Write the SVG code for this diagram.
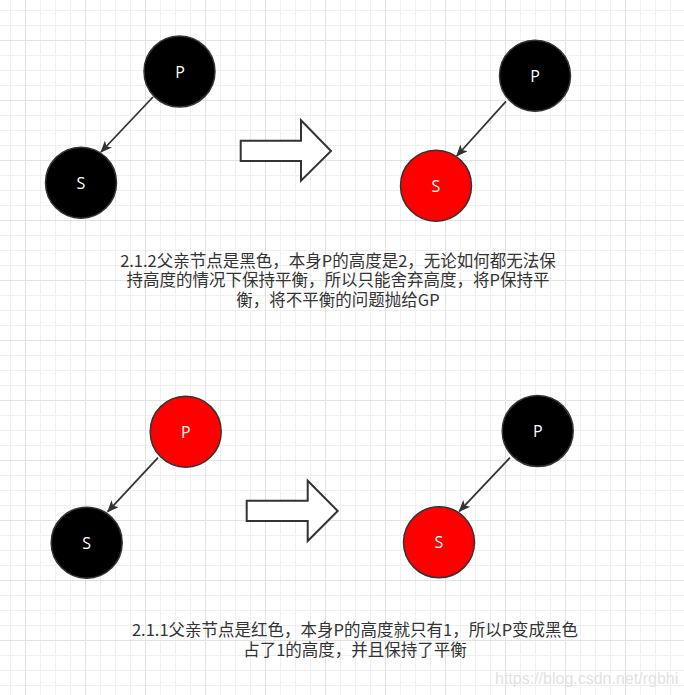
<svg xmlns="http://www.w3.org/2000/svg" width="684" height="695" viewBox="0 0 684 695">
<defs>
<pattern id="gmin" patternUnits="userSpaceOnUse" x="10" y="10" width="15" height="15"><path d="M15 0.5H0.5V15" fill="none" stroke="#efefef" stroke-width="1"/></pattern>
<pattern id="gmaj" patternUnits="userSpaceOnUse" x="25" y="40" width="60" height="60"><path d="M60 0.5H0.5V60" fill="none" stroke="#e2e2e2" stroke-width="1"/></pattern>
<marker id="ah" markerUnits="userSpaceOnUse" viewBox="0 0 12 10" refX="11" refY="5" markerWidth="12" markerHeight="10" orient="auto"><path d="M0 0L12 5L0 10L3 5Z" fill="#333"/></marker>
</defs>
<style>
.nd{stroke:#333;stroke-width:1.5}
.blk{fill:#000}
.red{fill:#ff0000}
.lbl{font-family:"Open Sans","Noto Sans",sans-serif;font-size:16px;fill:#fff;text-anchor:middle}
.ed{stroke:#333;stroke-width:1.8;fill:none;marker-end:url(#ah)}
.ba{fill:#fff;stroke:#333;stroke-width:2;stroke-linejoin:miter}
.tx{font-family:"Noto Sans CJK SC","Noto Sans",sans-serif;font-size:16.5px;fill:#333;text-anchor:middle}
.wm{font-family:"Liberation Sans",Arial,sans-serif;font-size:16px;fill:#e2e2e2}
</style>
<rect width="684" height="695" fill="#fff"/>
<rect width="684" height="695" fill="url(#gmin)"/>
<rect width="684" height="695" fill="url(#gmaj)"/>
<g id="connectors">
<path class="ed" d="M153 97L101 152"/>
<path class="ed" d="M506 101.3L456.7 156"/>
<path class="ed" d="M158 457.7L107.7 511.7"/>
<path class="ed" d="M510 457.7L459.3 511.3"/>
</g>
<g id="p1"><circle class="nd blk" cx="179.5" cy="71.5" r="35.5"/><text class="lbl" x="180" y="77.5">P</text></g>
<g id="s1"><circle class="nd blk" cx="81" cy="182.7" r="35.5"/><text class="lbl" x="81" y="188.5">S</text></g>
<g id="p2"><circle class="nd blk" cx="535" cy="75.7" r="35.5"/><text class="lbl" x="535" y="81.5">P</text></g>
<g id="s2"><circle class="nd red" cx="436" cy="185.7" r="35.5"/><text class="lbl" x="436" y="191.5">S</text></g>
<g id="arrow1"><path class="ba" d="M240.7 140.7H301V120.3L331 151L301 180.7V161H240.7Z"/></g>
<g id="text1">
<text class="tx" x="338" y="266.5">2.1.2父亲节点是黑色，本身P的高度是2，无论如何都无法保</text>
<text class="tx" x="338" y="286.3">持高度的情况下保持平衡，所以只能舍弃高度，将P保持平</text>
<text class="tx" x="338" y="306.1">衡，将不平衡的问题抛给GP</text>
</g>
<g id="p3"><circle class="nd red" cx="185.7" cy="431.7" r="35.5"/><text class="lbl" x="185.7" y="437.5">P</text></g>
<g id="s3"><circle class="nd blk" cx="86.7" cy="542.7" r="35.5"/><text class="lbl" x="86.7" y="548.5">S</text></g>
<g id="p4"><circle class="nd blk" cx="537.7" cy="431" r="35.5"/><text class="lbl" x="537.7" y="436.8">P</text></g>
<g id="s4"><circle class="nd red" cx="439" cy="542.3" r="35.5"/><text class="lbl" x="439" y="548.1">S</text></g>
<g id="arrow2"><path class="ba" d="M246.7 500.7H307.7V480.7L337.7 511L307.7 541V521H246.7Z"/></g>
<g id="text2">
<text class="tx" x="355" y="636">2.1.1父亲节点是红色，本身P的高度就只有1，所以P变成黑色</text>
<text class="tx" x="355" y="655.6">占了1的高度，并且保持了平衡</text>
</g>
<text class="wm" x="495" y="684">https://blog.csdn.net/rgbhi</text>
</svg>
